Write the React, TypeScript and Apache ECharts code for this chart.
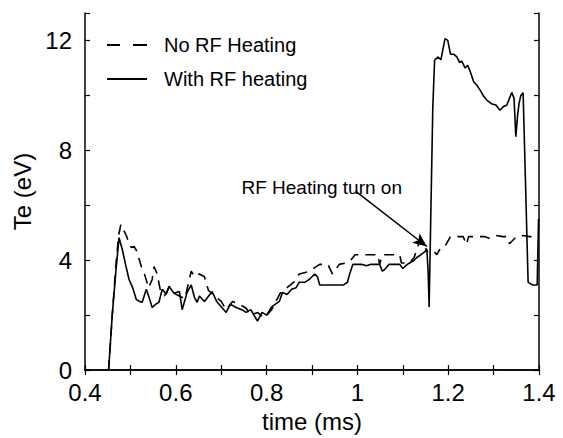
import React, { useEffect, useRef } from "react";
import * as echarts from "echarts";

const FONT = "'Liberation Sans', Arial, Helvetica, sans-serif";

// With RF heating (solid)
const timeWithRF = [
  0.452, 0.46, 0.468, 0.475, 0.482, 0.49, 0.497, 0.505, 0.513, 0.52, 0.526, 0.535, 0.541, 0.548, 0.556,
  0.563, 0.57, 0.579, 0.585, 0.596, 0.608, 0.614, 0.625, 0.634, 0.641, 0.647, 0.652, 0.663, 0.68, 0.69,
  0.711, 0.72, 0.733, 0.745, 0.755, 0.765, 0.78, 0.79, 0.8, 0.811, 0.828, 0.835, 0.845, 0.855, 0.865,
  0.872, 0.885, 0.894, 0.906, 0.912, 0.917, 0.93, 0.95, 0.97, 0.978, 0.983, 0.99, 1.0, 1.009, 1.02,
  1.03, 1.049, 1.055, 1.06, 1.07, 1.082, 1.093, 1.1, 1.11, 1.115, 1.125, 1.131, 1.14, 1.148, 1.153,
  1.156, 1.158, 1.161, 1.166, 1.17, 1.177, 1.184, 1.193, 1.199, 1.205, 1.212, 1.219, 1.225, 1.23, 1.237,
  1.243, 1.25, 1.256, 1.263, 1.27, 1.277, 1.285, 1.295, 1.305, 1.314, 1.322, 1.329, 1.335, 1.34, 1.345,
  1.349, 1.353, 1.356, 1.36, 1.365, 1.37, 1.376, 1.385, 1.396, 1.399,
];
const teWithRF = [
  0, 2.0, 3.6, 4.82, 4.4, 3.8, 3.3, 3.0, 2.57, 2.5, 2.47, 2.94, 2.65, 2.28, 2.4,
  2.47, 2.94, 2.76, 3.05, 2.8, 2.86, 2.2, 2.83, 3.1, 2.65, 2.47, 2.7, 2.5, 2.86, 2.5,
  2.1, 2.4, 2.28, 2.2, 2.1, 2.2, 1.78, 2.1, 2.0, 2.3, 2.5, 2.83, 2.75, 2.94, 3.0,
  3.2, 3.2, 3.3, 3.5, 3.4, 3.1, 3.1, 3.1, 3.1, 3.2, 3.5, 3.85, 3.85, 3.85, 3.8,
  3.85, 3.85, 3.6, 3.66, 3.85, 3.85, 3.85, 3.7, 3.85, 3.9, 4.0, 4.1, 4.2, 4.3, 4.4,
  3.5, 2.3, 5.0, 9.5, 11.28, 11.4, 11.3, 12.07, 12.0, 11.5, 11.5, 11.4, 11.2, 11.25, 11.0,
  11.1, 10.8, 10.5, 10.37, 10.2, 10.0, 9.83, 9.7, 9.65, 9.46, 9.6, 9.64, 9.9, 10.1, 9.9,
  8.5, 9.3, 9.7, 10.0, 10.1, 7.0, 3.2, 3.1, 3.1, 5.5,
];

// No RF heating (dashed); null marks a gap
const timeNoRF = [
  0.452, 0.46, 0.468, 0.474, 0.479, 0.485, 0.491, 0.497, 0.502, 0.508, 0.515, 0.52, 0.524, 0.53, 0.54,
  0.548, 0.552, 0.559, 0.566, 0.575, 0.585, 0.596, 0.608, 0.62, 0.634, 0.641, 0.652, 0.663, 0.672, 0.685,
  0.7, 0.711, 0.725, 0.74, 0.755, 0.765, 0.78, 0.795, 0.811, 0.83, 0.845, 0.86, 0.872, 0.885, 0.894,
  0.906, 0.917, 0.925, 0.935, 0.945, 0.96, 0.975, 0.985, 0.995, 1.009, 1.02, 1.03, 1.045, 1.049, 1.055,
  1.07, 1.085, 1.093, 1.097, 1.105, 1.115, 1.125, 1.135, 1.14, 1.148, 1.155, 1.162, 1.17, 1.175, 1.185,
  1.195, 1.205, 1.22, 1.233, 1.24, 1.245, 1.26, 1.28, 1.29, 1.305, 1.32, 1.33, 1.335, 1.35, 1.365,
  1.38, 1.396,
];
const teNoRF: (number | null)[] = [
  0, 2.0, 3.8, 4.9, 5.3, 5.1, 4.9, 4.6, 4.46, 4.5, 4.3, 4.0, 3.77, 3.55, 3.0,
  3.3, 3.77, 3.5, 2.9, 2.7, 3.0, 2.8, 2.7, 2.6, 3.6, 3.4, 3.5, 3.4, 2.9, 2.7,
  2.5, 2.2, 2.5, 2.4, 2.25, 2.0, 2.1, 1.9, 2.2, 2.8, 3.0, 3.2, 3.5, 3.55, 3.6,
  3.73, 3.85, 3.85, 3.85, 3.5, 3.85, 3.9, 4.0, 4.2, 4.2, 4.2, 4.2, 4.2, 3.85, 4.2,
  4.2, 4.2, 4.2, 3.9, 3.9, 3.9, 4.1, 4.6, 4.75, 4.5, 4.3, null, 4.3, 4.2, 4.5,
  4.57, 4.86, 4.86, 4.86, 4.57, 4.86, 4.86, 4.86, 4.8, 4.9, 4.86, 4.86, 4.6, 4.86, 4.9,
  4.86, 4.86,
];

const xTicks = [0.4, 0.6, 0.8, 1, 1.2, 1.4];
const yTicks = [0, 4, 8, 12];
const arrowFrom = [0.998, 6.49];
const arrowTo = [1.153, 4.5];
const annotationText = "RF Heating turn on";
const seriesNames = ["No RF Heating", "With RF heating"];

function zip(xs: number[], ys: (number | null)[]) {
  return xs.map((x, i) => [x, ys[i] === null ? "-" : ys[i]]);
}

export default function App() {
  const ref = useRef<HTMLDivElement>(null);
  useEffect(() => {
    if (!ref.current) return;
    const chart = echarts.init(ref.current, null, { renderer: "svg" });
    const isLabeled = (v: number, list: number[]) => list.some((t) => Math.abs(t - v) < 1e-6);
    const axisCommon = {
      axisLine: { show: true, lineStyle: { color: "#000", width: 1.5 } },
      axisTick: { show: true, inside: true, length: 5, lineStyle: { color: "#000", width: 1.2 } },
      splitLine: { show: false },
    };
    chart.setOption({
      animation: false,
      backgroundColor: "#fff",
      grid: { left: 85, right: 24, top: 13, bottom: 67 },
      legend: {
        orient: "vertical",
        left: 102,
        top: 29,
        itemWidth: 40,
        itemHeight: 2,
        itemGap: 12,
        data: [
          { name: seriesNames[0], icon: "path://M0,0H13V2H0Z M26,0H40V2H26Z" },
          { name: seriesNames[1], icon: "path://M0,0H40V2H0Z" },
        ],
        itemStyle: { color: "#000" },
        textStyle: { fontFamily: FONT, fontSize: 20, lineHeight: 22, color: "#000", padding: [0, 0, 0, 12] },
      },
      xAxis: [
        {
          type: "value",
          min: 0.4,
          max: 1.4,
          interval: 0.1,
          name: "time (ms)",
          nameLocation: "middle",
          nameGap: 28,
          nameTextStyle: { fontFamily: FONT, fontSize: 24, color: "#000" },
          ...axisCommon,
          axisLabel: {
            fontFamily: FONT,
            fontSize: 24,
            color: "#000",
            margin: 10,
            formatter: (v: number) => (isLabeled(v, xTicks) ? String(+v.toFixed(1)) : ""),
          },
        },
        {
          type: "value",
          position: "top",
          min: 0.4,
          max: 1.4,
          interval: 0.1,
          ...axisCommon,
          axisLabel: { show: false },
        },
      ],
      yAxis: [
        {
          type: "value",
          min: 0,
          max: 13,
          interval: 2,
          name: "Te (eV)",
          nameLocation: "middle",
          nameGap: 33,
          nameRotate: 90,
          nameTextStyle: { fontFamily: FONT, fontSize: 24, color: "#000" },
          ...axisCommon,
          axisLabel: {
            fontFamily: FONT,
            fontSize: 24,
            color: "#000",
            margin: 13,
            formatter: (v: number) => (isLabeled(v, yTicks) ? String(v) : ""),
          },
        },
        {
          type: "value",
          position: "right",
          min: 0,
          max: 13,
          interval: 2,
          ...axisCommon,
          axisLabel: { show: false },
        },
      ],
      series: [
        {
          name: seriesNames[0],
          type: "line",
          data: zip(timeNoRF, teNoRF),
          showSymbol: false,
          symbol: "none",
          connectNulls: false,
          z: 2,
          lineStyle: { color: "#000", width: 1.6, type: [10, 7] },
          itemStyle: { color: "#000" },
        },
        {
          name: seriesNames[1],
          type: "line",
          data: zip(timeWithRF, teWithRF),
          showSymbol: false,
          symbol: "none",
          z: 3,
          lineStyle: { color: "#000", width: 1.6, type: "solid" },
          itemStyle: { color: "#000" },
          markLine: {
            silent: true,
            symbol: ["none", "arrow"],
            symbolSize: [9, 14],
            label: { show: false },
            lineStyle: { color: "#000", width: 1.5, type: "solid" },
            data: [[{ coord: arrowFrom }, { coord: arrowTo }]],
          },
        },
      ],
      graphic: [
        {
          type: "text",
          x: 402,
          y: 187,
          style: {
            text: annotationText,
            fontFamily: FONT,
            fontSize: 19,
            fill: "#000",
            align: "right",
            verticalAlign: "middle",
          },
        },
      ],
    });
    return () => chart.dispose();
  }, []);
  return <div ref={ref} style={{ width: 563, height: 438, position: "absolute", left: 0, top: 0 }} />;
}
